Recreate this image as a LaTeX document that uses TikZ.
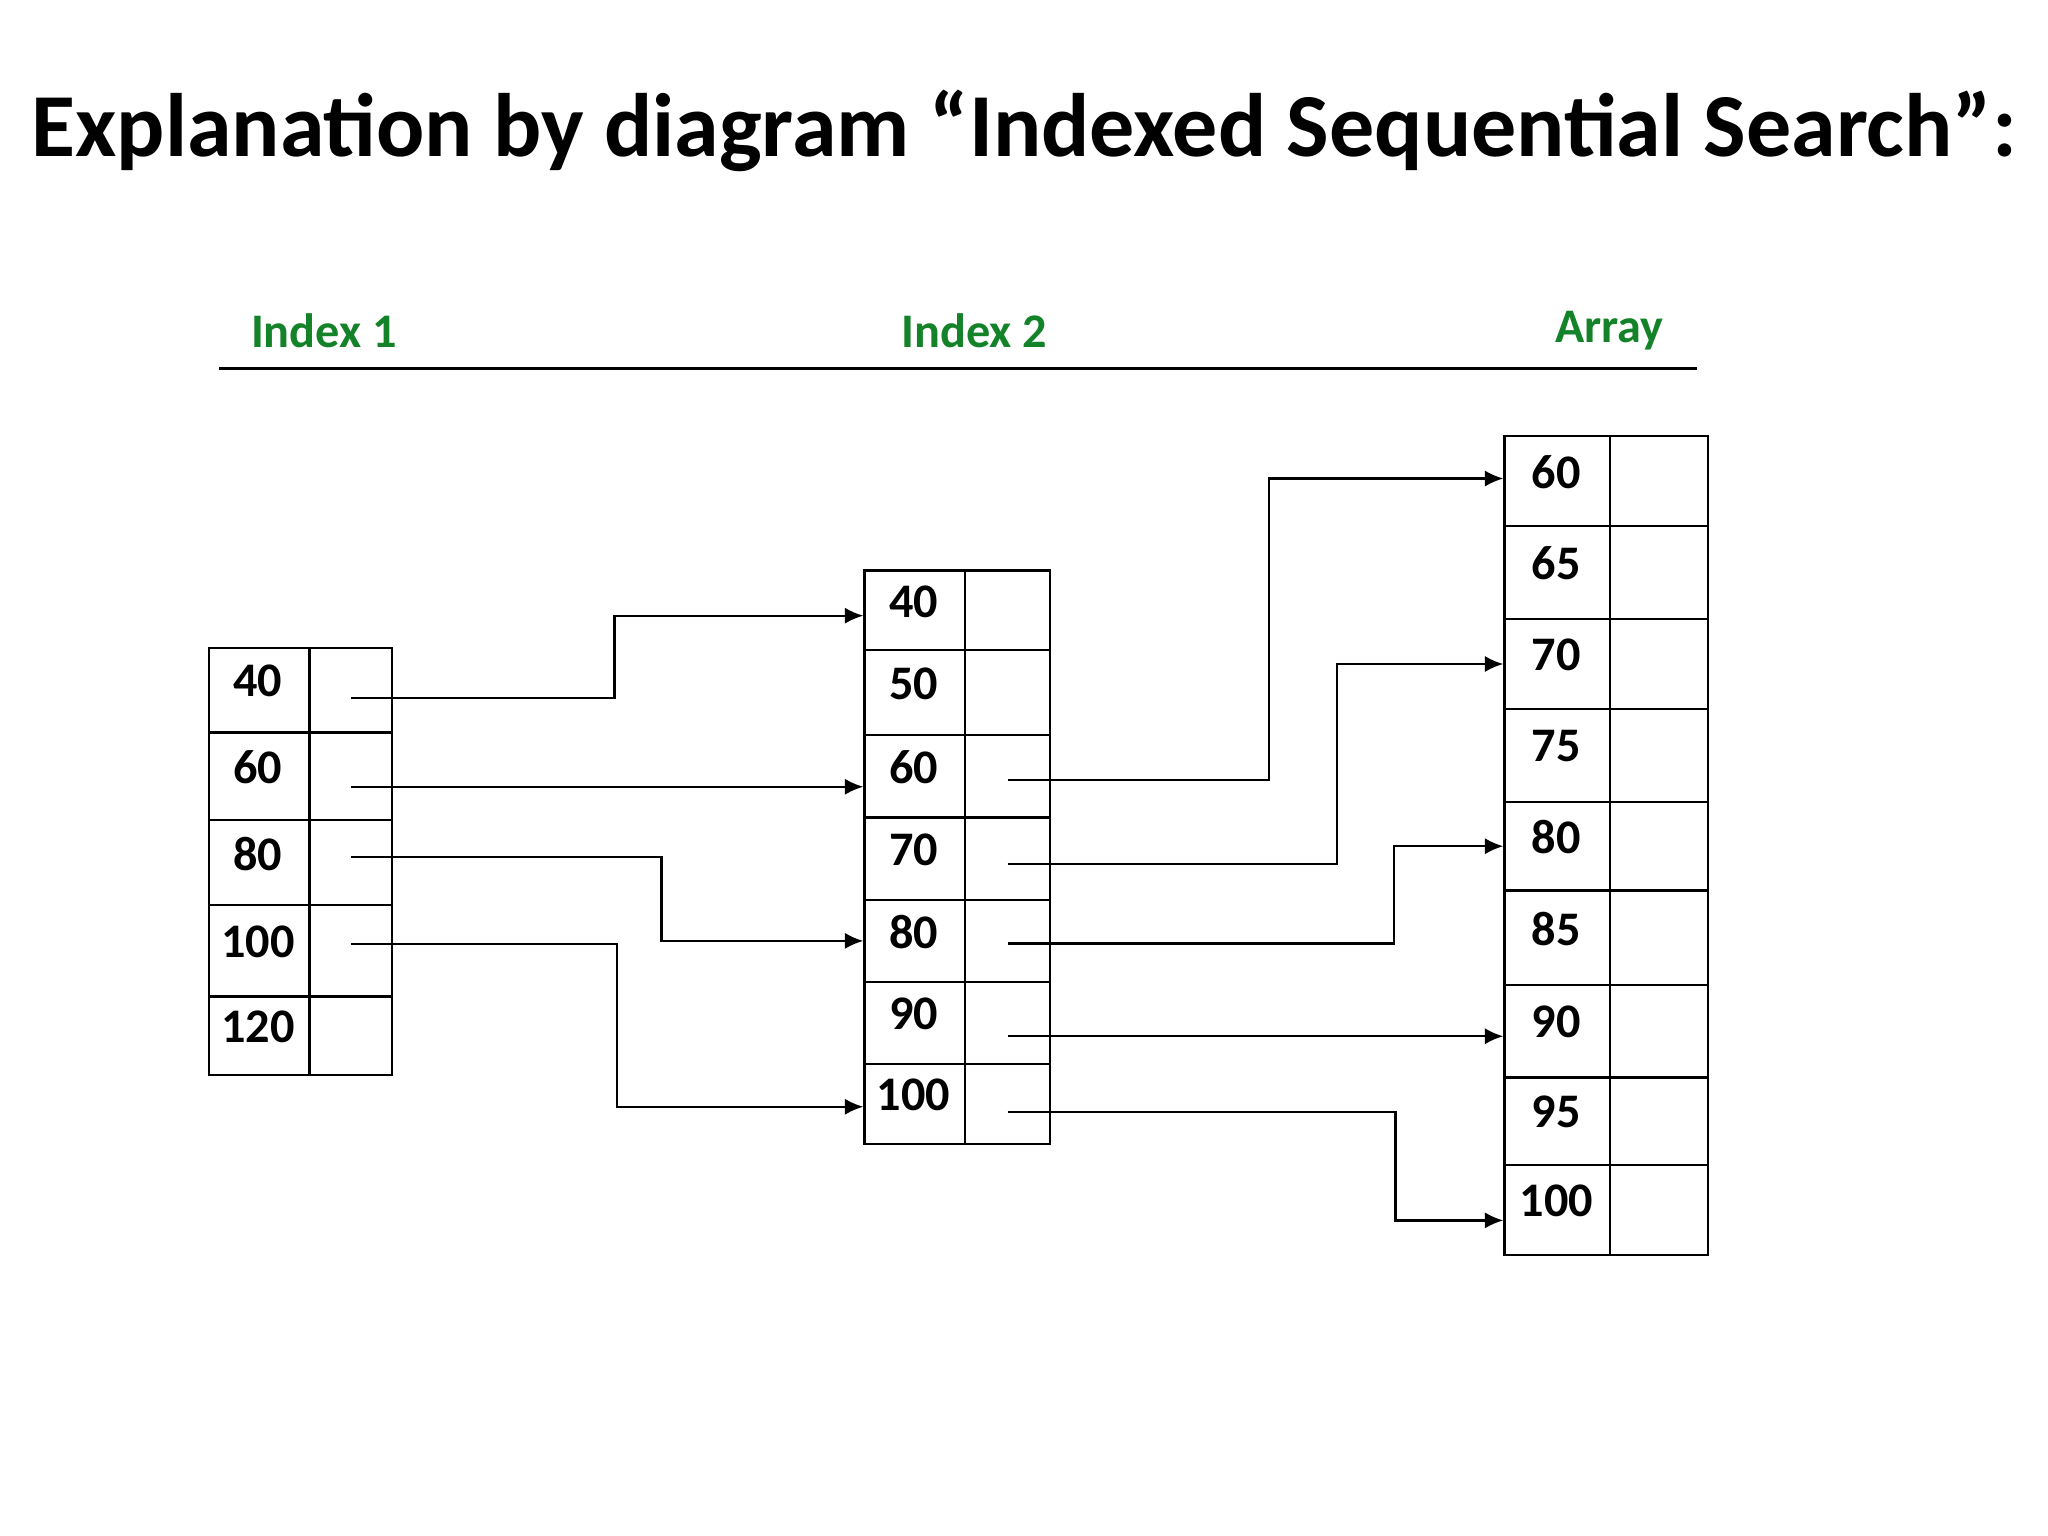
\documentclass[tikz,border=0pt]{standalone}
\usepackage{fontspec}
\setmainfont{Carlito}
\usetikzlibrary{arrows.meta,calc}
\definecolor{hdr}{RGB}{20,130,40}
\begin{document}
\begin{tikzpicture}[x=0.01cm,y=-0.01cm,
  cell/.style={draw,line width=0.5pt,anchor=north west,inner sep=0pt,font=\fontsize{10.5pt}{12pt}\selectfont\bfseries},
  hd/.style={text=hdr,font=\fontsize{10.5pt}{12pt}\selectfont\bfseries},
  arr/.style={line width=0.5pt,-{Latex[length=4pt,width=3.5pt]}}]
\useasboundingbox (0,0) rectangle (1568,1176);
\node[font=\fontsize{19.6pt}{23pt}\selectfont\bfseries] (title) at (784,100) {Explanation by diagram “Indexed Sequential Search”:};
\node[hd] (h1) at (248,253) {Index 1};
\node[hd] (h2) at (746,253) {Index 2};
\node[hd] (h3) at (1232,253) {Array};
\coordinate (l1) at (168,282); \coordinate (l2) at (1299,282);
\draw[line width=0.6pt] (l1) -- (l2);
\newcommand{\mktable}[5]{%
  \foreach \t/\b/\lab [count=\i] in {#5}{%
    \node[cell,minimum width={(#3-#2)*0.01cm},minimum height={(\b-\t)*0.01cm}] (#1v\i) at (#2,\t) {};
    \node[font=\fontsize{10.5pt}{12pt}\selectfont\bfseries] (#1t\i) at ({(#2+#3)/2},{(\t+\b)/2-6}) {\lab};
    \node[cell,minimum width={(#4-#3)*0.01cm},minimum height={(\b-\t)*0.01cm}] (#1p\i) at (#3,\t) {};
  }}
\mktable{a}{159}{236}{299}{495/560/40,560/627/60,627/692/80,692/762/100,762/822/120}
\mktable{b}{661}{738}{803}{436/497/40,497/562/50,562/625/60,625/688/70,688/751/80,751/814/90,814/875/100}
\mktable{c}{1151}{1232}{1307}{333/402/60,402/473/65,473/542/70,542/613/75,613/681/80,681/753/85,753/824/90,824/891/95,891/960/100}
\draw[arr] ($(ap1.center)+(0,6)$) -- ++(202,0) |- ($(bv1.west)+(0,4)$);
\draw[arr] ($(ap2.center)+(0,8)$) -- (bv3.west |- {$(ap2.center)+(0,8)$});
\draw[arr] ($(ap3.center)+(0,-4)$) -- ++(238,0) |- (bv5.west);
\draw[arr] ($(ap4.center)+(0,-5)$) -- ++(204,0) |- ($(bv7.west)+(0,2)$);
\draw[arr] ($(bp3.center)+(0,3)$) -- ++(200,0) |- ($(cv1.west)+(0,-2)$);
\draw[arr] ($(bp4.center)+(0,4)$) -- ++(252,0) |- (cv3.west);
\draw[arr] ($(bp5.center)+(0,2)$) -- ++(296,0) |- (cv5.west);
\draw[arr] ($(bp6.center)+(0,10)$) -- (cv7.west |- {$(bp6.center)+(0,10)$});
\draw[arr] ($(bp7.center)+(0,6)$) -- ++(297,0) |- ($(cv9.west)+(0,8)$);
\end{tikzpicture}
\end{document}
